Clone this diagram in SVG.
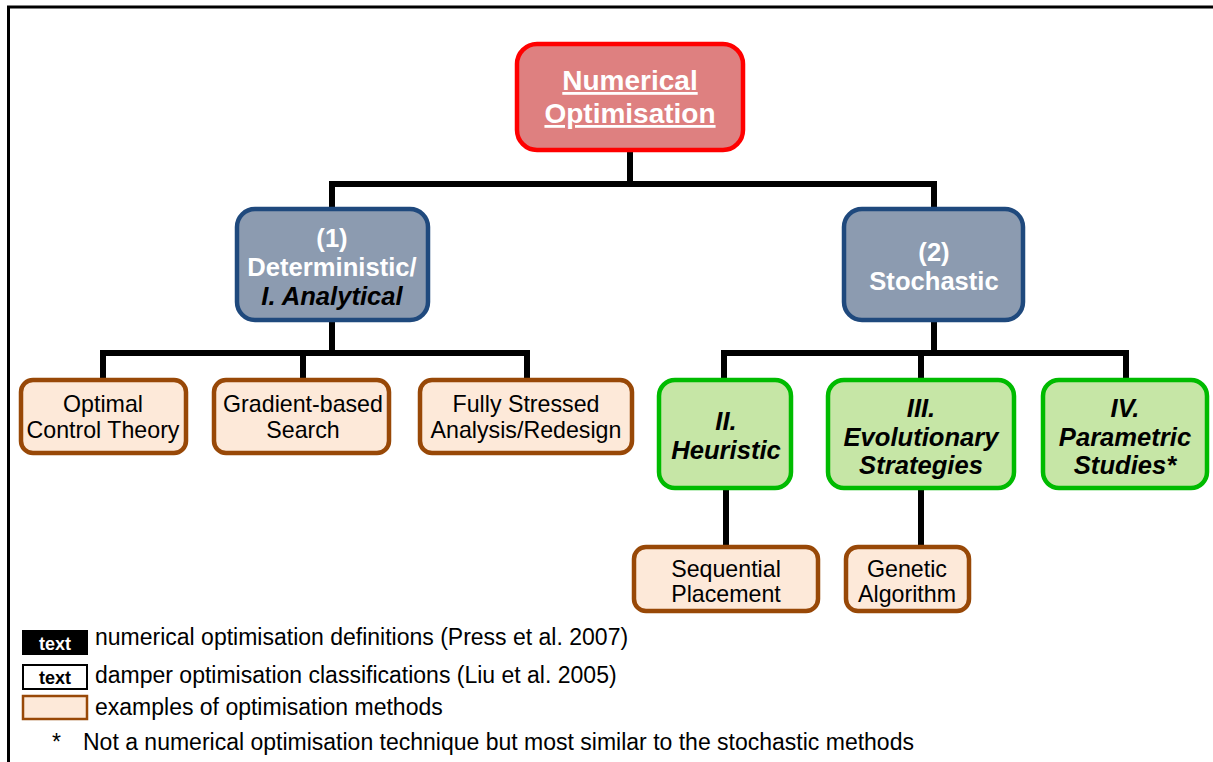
<svg xmlns="http://www.w3.org/2000/svg" width="1213" height="762" viewBox="0 0 1213 762">
<style>
text{font-family:"Liberation Sans",Arial,sans-serif;text-anchor:middle}
.root{fill:#de8080;stroke:#ff0000;stroke-width:4.5}
.blue{fill:#8c9bb0;stroke:#1f497d;stroke-width:4.5}
.orange{fill:#fde9d9;stroke:#984807;stroke-width:4.5}
.green{fill:#c6e6a6;stroke:#00bb00;stroke-width:4.5}
.wt{fill:#fff;font-weight:bold;font-size:25.6px}
.bi{fill:#000;font-weight:bold;font-style:italic;font-size:25.6px}
.reg{fill:#000;font-size:23.2px}
.leg{fill:#000;font-size:23px;text-anchor:start}
.conn{stroke:#000;stroke-width:6;fill:none}
</style>
<rect x="0" y="0" width="1213" height="762" fill="#fff"/>
<path d="M8.5 762 V7 H1213" fill="none" stroke="#000" stroke-width="3"/>
<g id="connectors">
<path class="conn" d="M630 150 V184"/>
<path class="conn" d="M332 209 V184 H934 V209" stroke-width="7"/>
<path class="conn" d="M332 320 V353"/>
<path class="conn" d="M103 380 V353 H527 V380 M303 353 V380"/>
<path class="conn" d="M934 320 V353"/>
<path class="conn" d="M724 380 V353 H1126 V380 M921 353 V380"/>
<path class="conn" d="M726 488 V547"/>
<path class="conn" d="M921 488 V547"/>
</g>
<g id="root">
<rect class="root" x="517" y="44" width="226" height="106" rx="20"/>
<text class="wt" x="630" y="90" style="font-size:28px" text-decoration="underline">Numerical</text>
<text class="wt" x="630" y="123" style="font-size:28px" text-decoration="underline">Optimisation</text>
</g>
<g id="deterministic">
<rect class="blue" x="237" y="209" width="191" height="111" rx="18"/>
<text class="wt" x="332" y="247">(1)</text>
<text class="wt" x="332" y="276">Deterministic/</text>
<text class="bi" x="332" y="305">I. Analytical</text>
</g>
<g id="stochastic">
<rect class="blue" x="844" y="209" width="179" height="111" rx="18"/>
<text class="wt" x="934" y="261">(2)</text>
<text class="wt" x="934" y="290">Stochastic</text>
</g>
<g id="optimal-control">
<rect class="orange" x="21" y="380" width="165" height="73" rx="12"/>
<text class="reg" x="103" y="412">Optimal</text>
<text class="reg" x="103" y="438">Control Theory</text>
</g>
<g id="gradient">
<rect class="orange" x="214" y="380" width="175" height="73" rx="12"/>
<text class="reg" x="303" y="412">Gradient-based</text>
<text class="reg" x="303" y="438">Search</text>
</g>
<g id="fully-stressed">
<rect class="orange" x="420" y="380" width="212" height="73" rx="12"/>
<text class="reg" x="526" y="412">Fully Stressed</text>
<text class="reg" x="526" y="438">Analysis/Redesign</text>
</g>
<g id="heuristic">
<rect class="green" x="659" y="380" width="132" height="108" rx="16"/>
<text class="bi" x="726" y="430">II.</text>
<text class="bi" x="726" y="459">Heuristic</text>
</g>
<g id="evolutionary">
<rect class="green" x="828" y="380" width="186" height="108" rx="16"/>
<text class="bi" x="921" y="417">III.</text>
<text class="bi" x="921" y="446">Evolutionary</text>
<text class="bi" x="921" y="474">Strategies</text>
</g>
<g id="parametric">
<rect class="green" x="1043" y="380" width="164" height="108" rx="16"/>
<text class="bi" x="1125" y="417">IV.</text>
<text class="bi" x="1125" y="446">Parametric</text>
<text class="bi" x="1125" y="474">Studies*</text>
</g>
<g id="sequential">
<rect class="orange" x="634" y="547" width="184" height="64" rx="12"/>
<text class="reg" x="726" y="577">Sequential</text>
<text class="reg" x="726" y="602">Placement</text>
</g>
<g id="genetic">
<rect class="orange" x="846" y="547" width="123" height="64" rx="12"/>
<text class="reg" x="907" y="577">Genetic</text>
<text class="reg" x="907" y="602">Algorithm</text>
</g>
<g id="legend">
<rect x="22" y="630" width="66" height="25" fill="#000"/>
<text x="55" y="650" style="fill:#fff;font-weight:bold;font-size:18px">text</text>
<text class="leg" x="95" y="645">numerical optimisation definitions (Press et al. 2007)</text>
<rect x="23" y="665" width="64" height="24" fill="#fff" stroke="#000" stroke-width="2"/>
<text x="55" y="684" style="fill:#000;font-weight:bold;font-size:18px">text</text>
<text class="leg" x="95" y="683">damper optimisation classifications (Liu et al. 2005)</text>
<rect x="23" y="696" width="64" height="23" fill="#fde9d9" stroke="#984807" stroke-width="2.5"/>
<text class="leg" x="95" y="715">examples of optimisation methods</text>
<text class="leg" x="52" y="750">*</text>
<text class="leg" x="83" y="750">Not a numerical optimisation technique but most similar to the stochastic methods</text>
</g>
</svg>
